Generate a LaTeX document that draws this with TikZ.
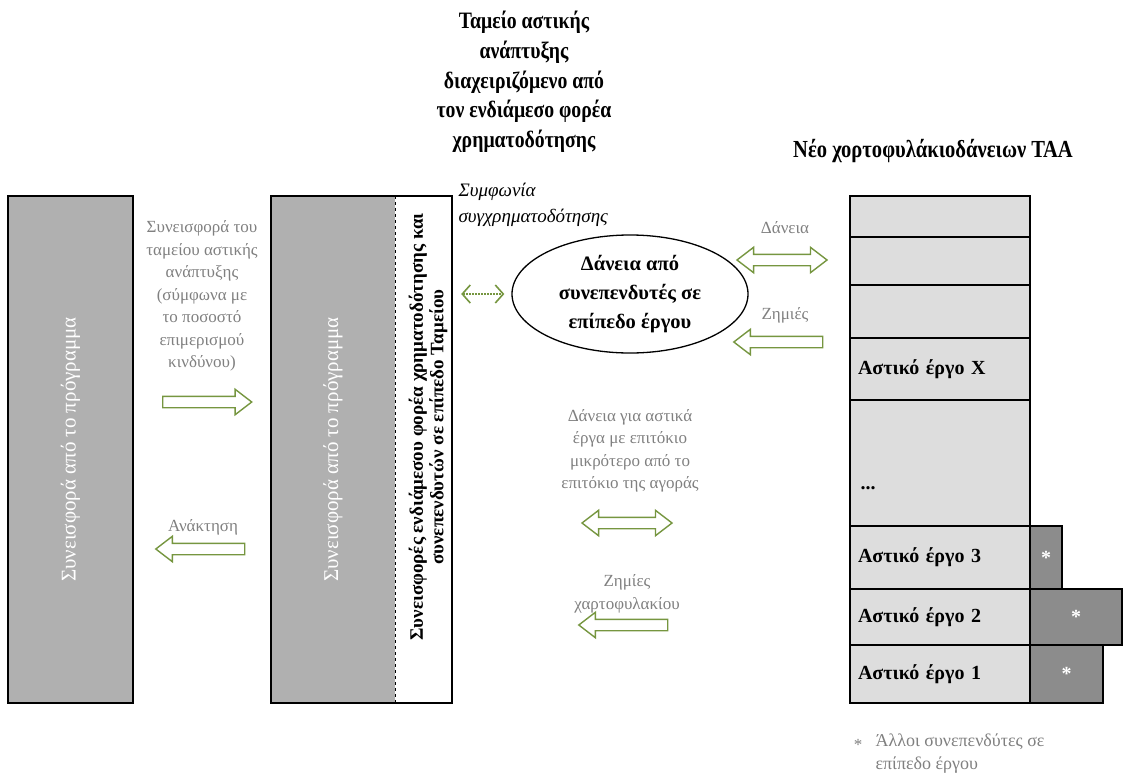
\documentclass[tikz,border=0pt]{standalone}
\usepackage{fontspec}
\setmainfont{Liberation Serif}
\newfontfamily\condfont[FakeStretch=0.84]{Liberation Serif}
\usetikzlibrary{shapes.geometric,shapes.arrows,arrows.meta}

\definecolor{boxgray}{RGB}{176,176,176}
\definecolor{rowgray}{RGB}{221,221,221}
\definecolor{sidegray}{RGB}{140,140,140}
\definecolor{arrgreen}{RGB}{118,150,64}
\definecolor{txtgray}{RGB}{128,128,128}

\tikzset{
  progbox/.style={fill=boxgray, minimum height=507pt, inner sep=0pt},
  rowbox/.style={draw, line width=1.8pt, fill=rowgray, minimum width=180pt, inner xsep=8pt, text width=164pt, align=left,
    font=\fontsize{20}{22}\selectfont\bfseries},
  sidebox/.style={draw, line width=1.2pt, fill=sidegray, text=white, font=\fontsize{20}{20}\selectfont\bfseries},
  note/.style={text=txtgray, align=center, font=\fontsize{17}{22.5}\selectfont},
  title/.style={align=center, font=\fontsize{23.5}{29.7}\selectfont\condfont\bfseries},
  rightarr/.style={single arrow, draw=arrgreen, line width=1.4pt, fill=white, minimum height=89pt,
    inner xsep=0pt, inner ysep=5pt, single arrow head extend=7pt, single arrow tip angle=75},
  leftarr/.style={rightarr, shape border rotate=180},
  botharr/.style={double arrow, draw=arrgreen, line width=1.4pt, fill=white, minimum height=90pt,
    inner xsep=0pt, inner ysep=5pt, double arrow head extend=7pt, double arrow tip angle=75},
  dotarr/.style={draw=arrgreen, line width=1.5pt, dash pattern=on 1.5pt off 1.5pt,
    {Straight Barb[length=8pt,width=18pt,line width=1.6pt]}-{Straight Barb[length=8pt,width=18pt,line width=1.6pt]}}
}

\begin{document}
\begin{tikzpicture}[x=1pt,y=-1pt]
\useasboundingbox (0,0) rectangle (1123,779);

% programme contribution
\node[progbox, draw, line width=1.6pt, minimum width=125pt] (prog) at (70.5,449.5)
  {\rotatebox{90}{\textcolor{white}{\fontsize{21}{24}\selectfont Συνεισφορά από το πρόγραμμα}}};

% urban development fund
\node[progbox, minimum width=124pt] (fund) at (333,449.5)
  {\rotatebox{90}{\textcolor{white}{\fontsize{21}{24}\selectfont Συνεισφορά από το πρόγραμμα}}};
\node[fill=white, minimum width=57pt, minimum height=507pt, inner sep=0pt] (cofin) at (423.5,449.5) {};
\draw[line width=1.6pt] (fund.north west) rectangle (cofin.south east);
\draw[dashed, line width=1pt] (fund.north east) -- (fund.south east);
\node[rotate=90, align=center, font=\fontsize{19}{20.5}\selectfont\bfseries] (cofintext) at (428,427)
  {Συνεισφορές ενδιάμεσου φορέα χρηματοδότησης και\\συνεπενδυτών σε επίπεδο Ταμείου};

\node[title] (fundtitle) at (524,82) {Ταμείο αστικής\\ανάπτυξης\\διαχειριζόμενο από\\τον ενδιάμεσο φορέα\\χρηματοδότησης};
\node[title, font=\fontsize{24.5}{29.7}\selectfont\condfont\bfseries] (pftitle) at (933,151) {Νέο χορτοφυλάκιοδάνειων ΤΑΑ};

% flows between programme and fund
\node[note] (contrib) at (202,296) {Συνεισφορά του\\ταμείου αστικής\\ανάπτυξης\\(σύμφωνα με\\το ποσοστό\\επιμερισμού\\κινδύνου)};
\node[rightarr] (contribarr) at (203.5,402) {};
\node[note] (recov) at (203,527) {Ανάκτηση};
\node[leftarr] (recovarr) at (204,549) {};

% co-investors
\node[draw, line width=1.3pt, ellipse, minimum width=236pt, minimum height=118pt, inner sep=0pt, align=center,
  font=\fontsize{20.5}{29}\selectfont\bfseries] (coinv) at (630,294) {Δάνεια από\\συνεπενδυτές σε\\επίπεδο έργου};
\node[anchor=west, align=left, font=\fontsize{19}{26}\selectfont\itshape] (agree) at (455,205) {Συμφωνία\\συγχρηματοδότησης};
\draw[dotarr] ([xshift=9pt]cofin.east |- coinv) -- ([xshift=-7pt]coinv.west);

\node[note] (loans) at (785,228) {Δάνεια};
\node[botharr] (loansarr) at (782,260) {};
\node[note] (losses) at (785,315) {Ζημιές};
\node[leftarr] (lossesarr) at (782,342) {};

\node[note] (urbloans) at (630,451) {Δάνεια για αστικά\\έργα με επιτόκιο\\μικρότερο από το\\επιτόκιο της αγοράς};
\node[botharr] (urbloansarr) at (627,523) {};
\node[note] (pflosses) at (627,594) {Ζημίες\\χαρτοφυλακίου};
\node[leftarr] (pflossesarr) at (627,625) {};

% portfolio
\node[sidebox, minimum width=32pt, minimum height=63pt] (oth3) at (1046,557.5) {*};
\node[sidebox, minimum width=92pt, minimum height=56pt] (oth2) at (1076,617) {*};
\node[sidebox, minimum width=73pt, minimum height=58pt] (oth1) at (1066.5,674) {*};

\node[rowbox, minimum height=41pt] (rowa) at (940,216.5) {};
\node[rowbox, minimum height=48pt] (rowb) at (940,261) {};
\node[rowbox, minimum height=53pt] (rowc) at (940,311.5) {};
\node[rowbox, minimum height=62pt] (projx) at (940,369) {Αστικό έργο Χ};
\node[rowbox, minimum height=126pt] (rowd) at (940,463) {};
\node[anchor=west, font=\fontsize{20}{22}\selectfont\bfseries] (dots) at (857,488) {...};
\node[rowbox, minimum height=63pt] (proj3) at (940,557.5) {Αστικό έργο 3};
\node[rowbox, minimum height=56pt] (proj2) at (940,617) {Αστικό έργο 2};
\node[rowbox, minimum height=58pt] (proj1) at (940,674) {Αστικό έργο 1};

\node[text=txtgray, font=\fontsize{17}{23}\selectfont] (star) at (858,745) {*};
\node[anchor=west, align=left, text=txtgray, font=\fontsize{18}{23}\selectfont] (others) at (872,754) {Άλλοι συνεπενδύτες σε\\επίπεδο έργου};
\end{tikzpicture}
\end{document}
